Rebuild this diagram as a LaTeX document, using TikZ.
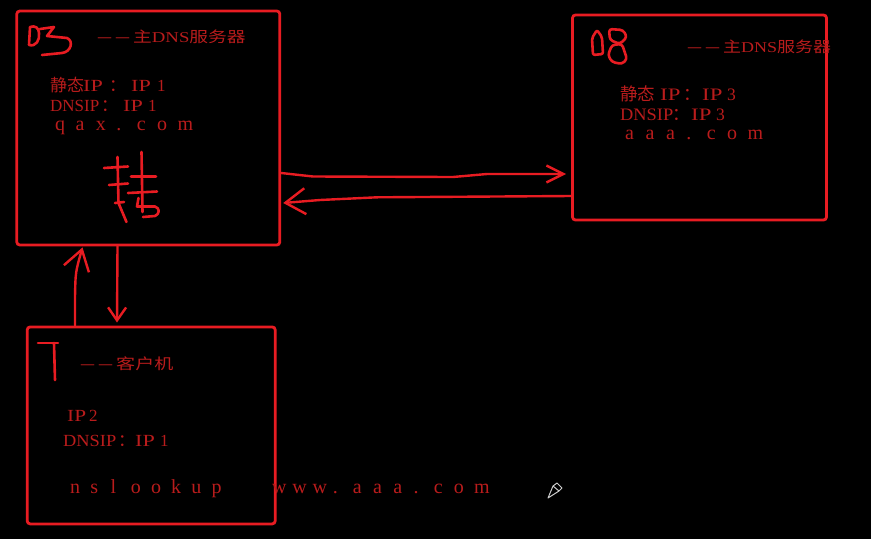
\documentclass[tikz,border=0pt]{standalone}
\usepackage{graphicx}
\usepackage{fontspec}
\setmainfont{Liberation Serif}
\newfontfamily\cjk{Noto Sans CJK SC}
\usetikzlibrary{arrows.meta}
\definecolor{ln}{RGB}{232,28,34}
\definecolor{tx}{RGB}{185,28,28}
\definecolor{cur}{RGB}{205,205,205}
\newcommand\wc[1]{\makebox[20.4pt][l]{#1}}
\newcommand\wcc[1]{\makebox[20.2pt][l]{#1}}
\newcommand\hx[2]{\scalebox{#1}[1]{#2}}
\newcommand\dsh{\makebox[18pt][l]{\hx{1.12}{\cjk —}}}
\begin{document}
\begin{tikzpicture}[x=1pt,y=-1pt,
  box/.style={draw=ln,line width=2.8pt,rounded corners=3pt,inner sep=0pt},
  lbl/.style={text=tx,inner sep=0pt,anchor=base west,font=\fontsize{17}{17}\selectfont},
  lblb/.style={lbl,font=\fontsize{17.5}{17.5}\selectfont},
  ttl/.style={lbl,font=\fontsize{15}{15}\selectfont},
  url/.style={lbl,font=\fontsize{20}{20}\selectfont},
  wire/.style={draw=ln,line width=2.4pt,line cap=round,line join=round},
  hand/.style={draw=ln,line width=2.6pt,line cap=round,line join=round},
  pen/.style={draw=cur,line width=1pt,line join=round}]
\fill[black] (0,0) rectangle (871,539);
\useasboundingbox (0,0) rectangle (871,539);

% boxes
\node[box,minimum width=263pt,minimum height=234pt] (A) at (148.3,128) {};
\node[box,minimum width=254pt,minimum height=205pt] (B) at (699.5,117.5) {};
\node[box,minimum width=248pt,minimum height=197pt] (C) at (151.2,425.4) {};

% texts of box A
\node[ttl] (At) at (97,42) {\dsh\dsh\hx{1.25}{{\cjk 主}DNS{\cjk 服务器}}};
\node[lbl] (A1) at (50,91) {\makebox[33pt][l]{\cjk 静态}\makebox[26pt][l]{\hx{1.3}{IP}}\makebox[22pt][l]{\cjk ：}\makebox[26pt][l]{\hx{1.3}{IP}}1};
\node[lbl] (A2) at (50,111) {\makebox[51pt][l]{DNSIP}\makebox[22pt][l]{\cjk ：}\makebox[25pt][l]{\hx{1.3}{IP}}1};
\node[url] (A3) at (55,130) {\wc{q}\wc{a}\wc{x}\wc{.}\wc{c}\wc{o}\wc{m}};

% texts of box B
\node[ttl] (Bt) at (687,52) {\dsh\dsh\hx{1.2}{{\cjk 主}DNS{\cjk 服务器}}};
\node[lblb] (B1) at (620,100) {\makebox[40pt][l]{\cjk 静态}\makebox[23pt][l]{\hx{1.3}{IP}}\makebox[19pt][l]{\cjk ：}\makebox[25pt][l]{\hx{1.3}{IP}}3};
\node[lblb] (B2) at (620,120) {\makebox[52pt][l]{\hx{1.05}{DNSIP}}\makebox[19pt][l]{\cjk ：}\makebox[25pt][l]{\hx{1.3}{IP}}3};
\node[url] (B3) at (625,139) {\wc{a}\wc{a}\wc{a}\wc{.}\wc{c}\wc{o}\wc{m}};

% texts of box C
\node[ttl] (Ct) at (80,369) {\dsh\dsh\hx{1.27}{\cjk 客户机}};
\node[lbl] (C1) at (67,421) {\makebox[22pt][l]{\hx{1.25}{IP}}2};
\node[lbl] (C2) at (63,446) {\makebox[55pt][l]{\hx{1.08}{DNSIP}}\makebox[17pt][l]{\cjk ：}\makebox[25pt][l]{\hx{1.3}{IP}}1};
\node[url] (C3) at (70,493) {\wcc{n}\wcc{s}\wcc{l}\wcc{o}\wcc{o}\wcc{k}\wcc{u}\wcc{p}\wcc{}\wcc{}\wcc{w}\wcc{w}\wcc{w}\wcc{.}\wcc{a}\wcc{a}\wcc{a}\wcc{.}\wcc{c}\wcc{o}\wcc{m}};

% hand-drawn "03"
\draw[hand] (30,27) -- (29,45) .. controls (36,47) and (40,40) .. (39,33) .. controls (39,28) and (35,25) .. (30,27);
\draw[hand] (40,29) -- (54,27) -- (47,36) -- (67,38) .. controls (74,41) and (71,52) .. (62,53) -- (42,55);

% hand-drawn "08"
\draw[hand,rounded corners=2pt] (597,30) -- (602,37) -- (603,54) -- (593,55) -- (592,38) -- cycle;
\draw[hand,rounded corners=3pt] (609,29) -- (623,30) -- (627,37) -- (620,44) -- (610,40) -- cycle;
\draw[hand,rounded corners=3pt] (612,45) -- (622,44) -- (627,59) -- (622,64) -- (612,62) -- (608,55) -- cycle;

% hand-drawn "7"
\draw[hand] (38,343) -- (58,343);
\draw[hand] (54,343) -- (55,380);

% hand-drawn character
\draw[hand] (104,168) -- (128,166.5);
\draw[hand] (117.5,157) -- (118.5,203) -- (126.5,222);
\draw[hand] (109,185) -- (128,183.5);
\draw[hand] (115,203) -- (124,202);
\draw[hand] (141.5,152) -- (142.5,212);
\draw[hand] (131,176.5) -- (156,176.5);
\draw[hand] (128,193) -- (157,191.5);
\draw[hand] (138.5,198) -- (137,206.5) -- (155,206.5) .. controls (160,208) and (160,214) .. (155,216) -- (143,217);

% connectors
\draw[wire,-{Straight Barb[length=17pt,width=17pt]}] (A.east |- 0,173) -- (313,176.5) -- (453,177) -- (487,174) -- ([xshift=-5pt]B.west |- 0,174);
\draw[wire,-{Straight Barb[length=20pt,width=26pt]}] (B.west |- 0,196) -- (377,197.3) -- (320,200) -- ([xshift=2pt]A.east |- 0,203);
\draw[wire,-{Straight Barb[length=20pt,width=26pt]}] (C.north -| 75,0) -- (75,297) .. controls (75.5,272) .. ([yshift=-1pt]A.south -| 82.5,0);
\draw[wire,-{Straight Barb[length=13pt,width=18pt]}] (A.south -| 117.5,0) -- ([yshift=3pt]C.north -| 117,0);

% pen cursor
\draw[pen] (548,498) -- (553,486) -- (557,483) -- (562,488) -- (559,491) -- cycle;
\draw[pen] (553,486) -- (559,491);
\end{tikzpicture}
\end{document}
